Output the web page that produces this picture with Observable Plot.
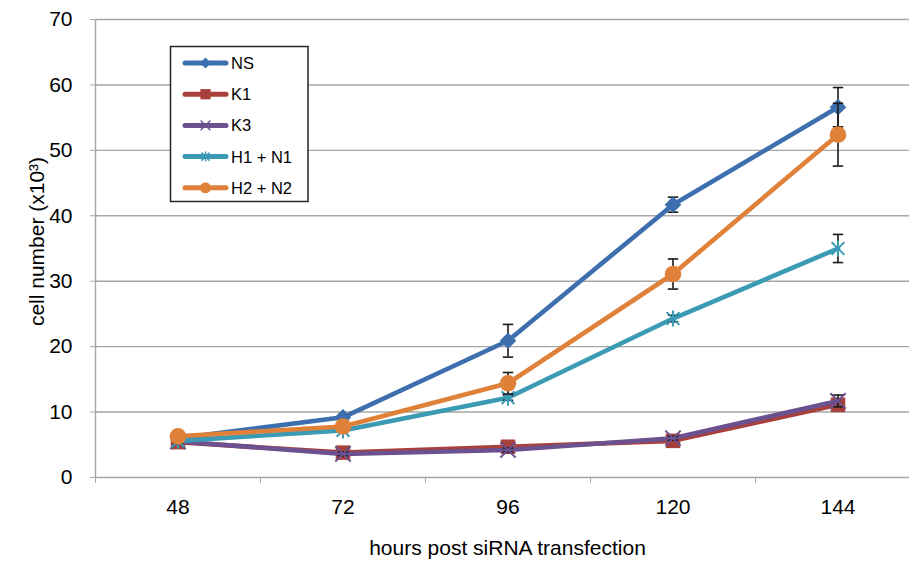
<!DOCTYPE html>
<html>
<head>
<meta charset="utf-8">
<script src="https://cdn.jsdelivr.net/npm/d3@7"></script>
<script src="https://cdn.jsdelivr.net/npm/@observablehq/plot@0.6"></script>
<style>
  html, body { margin: 0; padding: 0; background: #fff; }
  #wrap { position: relative; width: 909px; height: 563px; font-family: "Liberation Sans", Arial, sans-serif; }
  #legend { position: absolute; left: 0; top: 0; pointer-events: none; }
</style>
</head>
<body>
<div id="wrap"></div>
<script>
// ---- data ----
const hours = [48, 72, 96, 120, 144];
const dividerTicks = [36, 60, 84, 108, 132];
const yTicks = [0, 10, 20, 30, 40, 50, 60, 70];
const seriesNames = ["NS", "K1", "K3", "H1 + N1", "H2 + N2"];
const seriesColors = ["#3d6fae", "#a8403c", "#6c5190", "#3c9bb4", "#e0813a"];

const nsValues   = [6.0, 9.2, 20.9, 41.7, 56.6];
const nsErr      = [0.3, 0.4, 2.5, 1.15, 3.0];
const k1Values   = [5.4, 3.8, 4.7, 5.6, 11.1];
const k1Err      = [0.2, 0.3, 0.3, 0.3, 0.6];
const k3Values   = [5.5, 3.6, 4.2, 6.0, 11.7];
const k3Err      = [0.2, 0.3, 0.3, 0.3, 0.9];
const h1n1Values = [5.6, 7.2, 12.2, 24.3, 35.0];
const h1n1Err    = [0.3, 0.3, 0.4, 0.5, 2.15];
const h2n2Values = [6.3, 7.8, 14.4, 31.1, 52.4];
const h2n2Err    = [0.3, 0.4, 1.65, 2.3, 4.8];

const xTitle = "hours post siRNA transfection";
const yTitle = "cell number (x10\u00B3)";

// ---- build ----
const valueSets = [nsValues, k1Values, k3Values, h1n1Values, h2n2Values];
const errSets = [nsErr, k1Err, k3Err, h1n1Err, h2n2Err];

const asteriskX = {
  draw(ctx, size) {
    const r = Math.sqrt(size / Math.PI);
    const d = r * 0.8;
    ctx.moveTo(-d, -d); ctx.lineTo(d, d);
    ctx.moveTo(d, -d); ctx.lineTo(-d, d);
    ctx.moveTo(0, -r); ctx.lineTo(0, r);
  }
};
const hbar = {
  draw(ctx, size) {
    const r = Math.sqrt(size / Math.PI);
    ctx.moveTo(-r, 0); ctx.lineTo(r, 0);
  }
};

const markerSpecs = [
  {symbol: "diamond2", r: 7.5, filled: true},
  {symbol: "square", r: 8.2, filled: true},
  {symbol: "times", r: 7, filled: false},
  {symbol: asteriskX, r: 8, filled: false},
  {symbol: "circle", r: 8.3, filled: true}
];

const seriesData = seriesNames.map((name, i) =>
  hours.map((h, j) => ({series: name, hour: h, value: valueSets[i][j], err: errSets[i][j]}))
);

const marks = [
  Plot.gridY(yTicks.filter(d => d > 0), {stroke: "#a6a6a6", strokeOpacity: 1, strokeWidth: 1.4}),
  Plot.ruleX([36], {stroke: "#a6a6a6", strokeWidth: 1.4}),
  Plot.ruleY([0], {stroke: "#a6a6a6", strokeWidth: 1.4}),
  Plot.axisY(yTicks, {tickSize: 5, tickPadding: 18, stroke: "#a6a6a6", fontSize: 21, fill: "#000", label: null}),
  Plot.axisX(dividerTicks, {tickSize: 6, tickFormat: () => "", stroke: "#a6a6a6", label: null}),
  Plot.axisX(hours, {tickSize: 0, tickPadding: 22, fontSize: 21, fill: "#000", label: null}),
  Plot.text([yTitle], {frameAnchor: "left", textAnchor: "middle", lineAnchor: "middle", dx: -58.5, dy: -7, rotate: -90, fontSize: 21, fill: "#000", text: d => d}),
  Plot.text([xTitle], {frameAnchor: "bottom", textAnchor: "middle", lineAnchor: "middle", dx: 5, dy: 71, fontSize: 21, fill: "#000", text: d => d})
];

seriesData.forEach((rows, i) => {
  const color = seriesColors[i];
  const m = markerSpecs[i];
  marks.push(Plot.line(rows, {x: "hour", y: "value", stroke: color, strokeWidth: 4.6, strokeLinejoin: "round", strokeLinecap: "round"}));
  marks.push(Plot.ruleX(rows, {x: "hour", y1: d => d.value - d.err, y2: d => d.value + d.err, stroke: "#1a1a1a", strokeWidth: 1.6}));
  marks.push(Plot.dot(rows, {x: "hour", y: d => d.value + d.err, symbol: hbar, r: 5.2, stroke: "#1a1a1a", strokeWidth: 1.6, fill: "none"}));
  marks.push(Plot.dot(rows, {x: d => d.hour, y: d => d.value - d.err, symbol: hbar, r: 5.2, stroke: "#1a1a1a", strokeWidth: 1.6, fill: "none"}));
  if (m.filled) {
    marks.push(Plot.dot(rows, {x: "hour", y: "value", symbol: m.symbol, r: m.r, fill: color, stroke: "none"}));
  } else {
    marks.push(Plot.dot(rows, {x: "hour", y: "value", symbol: m.symbol, r: m.r, fill: "none", stroke: color, strokeWidth: 2}));
  }
});

const chart = Plot.plot({
  width: 909,
  height: 563,
  marginLeft: 95,
  marginRight: 0,
  marginTop: 19,
  marginBottom: 86,
  style: {fontFamily: "'Liberation Sans', Arial, sans-serif", background: "#fff", color: "#000"},
  x: {type: "linear", domain: [36, 156], range: [95, 920]},
  y: {domain: [0, 70]},
  marks
});

const wrap = document.getElementById("wrap");
wrap.appendChild(chart);

// ---- legend overlay ----
const lg = d3.select(wrap).append("svg")
  .attr("id", "legend").attr("width", 909).attr("height", 563);
lg.append("rect").attr("x", 170.5).attr("y", 46.5).attr("width", 137.5).attr("height", 155)
  .attr("fill", "#fff").attr("stroke", "#262626").attr("stroke-width", 1.5);
const d3Symbols = [d3.symbolDiamond2, d3.symbolSquare, d3.symbolTimes, asteriskX, d3.symbolCircle];
const legendSizes = [5, 5.8, 4.5, 5, 5.5];
seriesNames.forEach((name, i) => {
  const g = lg.append("g").attr("transform", `translate(0,${63 + i * 31.2})`);
  g.append("line").attr("x1", 185).attr("x2", 226).attr("y1", 0).attr("y2", 0)
    .attr("stroke", seriesColors[i]).attr("stroke-width", 5).attr("stroke-linecap", "round");
  const sym = d3.symbol(d3Symbols[i], Math.PI * legendSizes[i] ** 2)();
  const p = g.append("path").attr("d", sym).attr("transform", "translate(205.5,0)");
  if (markerSpecs[i].filled) p.attr("fill", seriesColors[i]);
  else p.attr("fill", "none").attr("stroke", seriesColors[i]).attr("stroke-width", 1.5);
  g.append("text").attr("x", 231).attr("y", 0).attr("dy", "0.36em")
    .attr("font-size", 16.5).attr("font-family", "'Liberation Sans', Arial, sans-serif")
    .attr("fill", "#000").text(name);
});
</script>
</body>
</html>
